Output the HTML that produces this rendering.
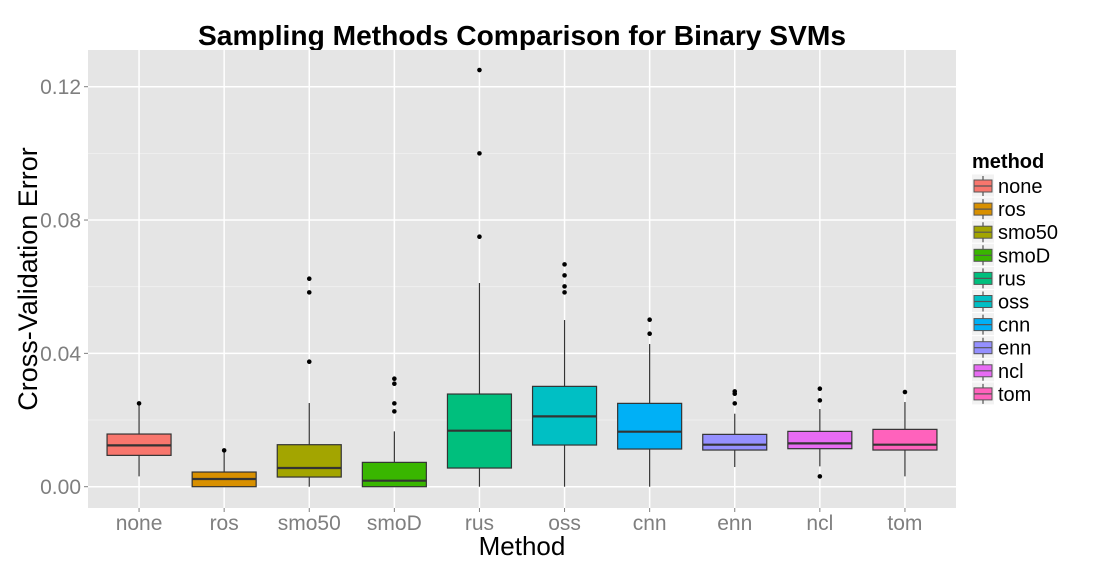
<!DOCTYPE html>
<html><head><meta charset="utf-8"><style>
body{margin:0;background:#fff;}
svg text{font-family:"Liberation Sans",sans-serif;}
</style></head><body>
<svg id="chart" width="1100" height="570" xmlns="http://www.w3.org/2000/svg">
<rect x="0" y="0" width="1100" height="570" fill="#fff"/>
<text x="522" y="45" text-anchor="middle" font-size="28" font-weight="bold" fill="#000" textLength="648" lengthAdjust="spacingAndGlyphs">Sampling Methods Comparison for Binary SVMs</text>
<rect x="88" y="50" width="868" height="458" fill="#e5e5e5"/>
<g id="grid"></g>
<g id="boxes"></g>
<g id="axes"></g>
<text x="522" y="555" text-anchor="middle" font-size="26" fill="#000">Method</text>
<text transform="translate(37,279) rotate(-90)" text-anchor="middle" font-size="27" fill="#000">Cross-Validation Error</text>
<g id="legend"></g>
</svg>
<script>
const categories=["none","ros","smo50","smoD","rus","oss","cnn","enn","ncl","tom"];
const colors=["#F8766D","#D89000","#A3A500","#39B600","#00BF7D","#00BFC4","#00B0F6","#9590FF","#E76BF3","#FF62BC"];
const whiskerLow=[0.0031,0.0,0.0,0.0,0.0,0.0,0.0,0.0059,0.0061,0.0031];
const q1=[0.0094,0.0,0.0029,0.0,0.0056,0.0125,0.0113,0.011,0.0114,0.011];
const median=[0.0124,0.0023,0.0056,0.0018,0.0168,0.0211,0.0165,0.0126,0.013,0.0126];
const q3=[0.0158,0.0044,0.0126,0.0073,0.0278,0.0301,0.025,0.0157,0.0166,0.0172];
const whiskerHigh=[0.0251,0.0105,0.0251,0.0166,0.0611,0.05,0.0428,0.0219,0.0233,0.0254];
const outliers=[[0.025],[0.0109],[0.0624,0.0583,0.0375],[0.0324,0.0309,0.025,0.0226],[0.125,0.1,0.075],[0.0667,0.0634,0.0601,0.0583],[0.0501,0.0459],[0.0286,0.0279,0.025],[0.0294,0.0259,0.0031],[0.0284]];
const yTicks=[0,0.04,0.08,0.12];
const yTickLabels=["0.00","0.04","0.08","0.12"];
const yMinor=[0.02,0.06,0.10];

const NS="http://www.w3.org/2000/svg";
const px0=88,pw=868,py0=50,ph=458;
const xScale=i=>px0+(i+0.6)*pw/10.2;
const yScale=v=>486.7-v*3333.3;
function mk(tag,attrs,parent){const e=document.createElementNS(NS,tag);for(const k in attrs)e.setAttribute(k,attrs[k]);parent.appendChild(e);return e;}
const grid=document.getElementById('grid'),boxes=document.getElementById('boxes'),axes=document.getElementById('axes'),legend=document.getElementById('legend');
yMinor.forEach(v=>{const l=mk('line',{x1:px0,x2:px0+pw,y1:yScale(v),y2:yScale(v),stroke:'#f2f2f2','stroke-width':0.8},grid);

});
yTicks.forEach((v,i)=>{const y=yScale(v);
const l=mk('line',{x1:px0,x2:px0+pw,y1:y,y2:y,stroke:'#fff','stroke-width':1.5},grid);


mk('line',{x1:px0-4,x2:px0,y1:y,y2:y,stroke:'#7f7f7f','stroke-width':1},axes);
const t=mk('text',{x:px0-7,y:y+7.5,'text-anchor':'end','font-size':21,fill:'#7f7f7f'},axes);t.textContent=yTickLabels[i];

});
categories.forEach((c,i)=>{const x=xScale(i);
const l=mk('line',{x1:x,x2:x,y1:py0,y2:py0+ph,stroke:'#fff','stroke-width':1.5},grid);


mk('line',{x1:x,x2:x,y1:py0+ph,y2:py0+ph+4,stroke:'#7f7f7f','stroke-width':1},axes);
const t=mk('text',{x:x,y:530,'text-anchor':'middle','font-size':21,fill:'#7f7f7f'},axes);t.textContent=c;


const g=mk('g',{},boxes);


const hw=32;
mk('line',{x1:x,x2:x,y1:yScale(whiskerHigh[i]),y2:yScale(q3[i]),stroke:'#333','stroke-width':1.2},g);
mk('line',{x1:x,x2:x,y1:yScale(q1[i]),y2:yScale(whiskerLow[i]),stroke:'#333','stroke-width':1.2},g);
mk('rect',{x:x-hw,y:yScale(q3[i]),width:2*hw,height:Math.max(0.5,yScale(q1[i])-yScale(q3[i])),fill:colors[i],stroke:'#333','stroke-width':1.2},g);
mk('line',{x1:x-hw,x2:x+hw,y1:yScale(median[i]),y2:yScale(median[i]),stroke:'#333','stroke-width':2.2},g);
outliers[i].forEach(v=>{const p=mk('circle',{cx:x,cy:yScale(v),r:2.3,fill:'#000'},g);

});
const ly=186+i*23.1;
const lg=mk('g',{},legend);


mk('rect',{x:972,y:ly-11.5,width:22,height:22,fill:'#f2f2f2'},lg);
mk('line',{x1:983,x2:983,y1:ly-10,y2:ly+10,stroke:'#333','stroke-width':1},lg);
mk('rect',{x:974,y:ly-6,width:18,height:12,fill:colors[i],stroke:'#555','stroke-width':1},lg);
mk('line',{x1:974,x2:992,y1:ly,y2:ly,stroke:'#555','stroke-width':1.2},lg);
const lt=mk('text',{x:998,y:ly+7,'font-size':20,fill:'#000'},lg);lt.textContent=c;});
const lt=mk('text',{x:972,y:168,'font-size':20,'font-weight':'bold',fill:'#000'},legend);lt.textContent='method';


</script>
</body></html>
